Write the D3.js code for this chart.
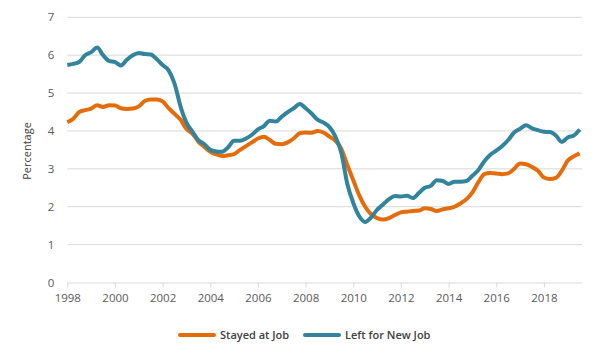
<!DOCTYPE html>
<html>
<head>
<meta charset="utf-8">
<script src="https://cdn.jsdelivr.net/npm/d3@7"></script>
<style>
  body { margin: 0; background: #fff; }
  svg { display: block; font-family: "Open Sans", sans-serif; }
</style>
</head>
<body>
<svg id="chart" width="600" height="360"></svg>
<script>
// quarterly readings, first quarter of 1998 onward
var startYear = 1998;
var stayedAtJob = [
  4.23, 4.32, 4.50, 4.55, 4.59, 4.68, 4.63, 4.68, 4.67, 4.60, 4.58, 4.59,
  4.65, 4.79, 4.83, 4.83, 4.78, 4.60, 4.45, 4.30, 4.05, 3.93, 3.72, 3.58,
  3.45, 3.38, 3.34, 3.36, 3.39, 3.50, 3.60, 3.70, 3.80, 3.85, 3.76, 3.66,
  3.65, 3.70, 3.80, 3.94, 3.96, 3.95, 4.00, 3.96, 3.85, 3.74, 3.53, 3.10,
  2.70, 2.30, 2.00, 1.80, 1.70, 1.66, 1.70, 1.78, 1.85, 1.87, 1.89, 1.90,
  1.96, 1.94, 1.89, 1.93, 1.96, 2.00, 2.09, 2.20, 2.38, 2.65, 2.86, 2.89,
  2.88, 2.86, 2.88, 3.00, 3.14, 3.12, 3.05, 2.95, 2.77, 2.73, 2.76, 2.95,
  3.22, 3.33, 3.41
];
var leftForNewJob = [
  5.74, 5.77, 5.82, 6.00, 6.08, 6.20, 6.00, 5.85, 5.82, 5.73, 5.88, 6.00,
  6.06, 6.03, 6.02, 5.90, 5.74, 5.60, 5.25, 4.65, 4.22, 3.98, 3.76, 3.65,
  3.50, 3.46, 3.45, 3.57, 3.74, 3.74, 3.80, 3.90, 4.04, 4.13, 4.27, 4.25,
  4.38, 4.50, 4.60, 4.71, 4.60, 4.46, 4.30, 4.22, 4.10, 3.85, 3.42, 2.60,
  2.10, 1.75, 1.60, 1.72, 1.92, 2.06, 2.20, 2.28, 2.27, 2.29, 2.23, 2.36,
  2.50, 2.55, 2.70, 2.68, 2.60, 2.66, 2.66, 2.68, 2.82, 2.97, 3.20, 3.37,
  3.48, 3.60, 3.76, 3.96, 4.06, 4.15, 4.07, 4.02, 3.98, 3.97, 3.88, 3.71,
  3.83, 3.88, 4.04
];
var xTicks = [1998, 2000, 2002, 2004, 2006, 2008, 2010, 2012, 2014, 2016, 2018];
var yTicks = [0, 1, 2, 3, 4, 5, 6, 7];
var seriesNames = ["Stayed at Job", "Left for New Job"];
var seriesColors = ["#e46c0a", "#31849b"];

var svg = d3.select("#chart");

var x = d3.scaleLinear().domain([1998, 2020]).range([67.3, 591.6]),
    y = d3.scaleLinear().domain([0, 7]).range([282.5, 17.3]);
var plotRight = 582;

var g = svg.append("g");

// gridlines
g.selectAll(".grid")
 .data(yTicks.filter(function(d) { return d > 0; }))
 .enter().append("line")
 .attr("x1", x(1998))
 .attr("x2", plotRight)
 .attr("y1", function(d) { return y(d); })
 .attr("y2", function(d) { return y(d); })
 .attr("stroke", "#d9d9d9")
 .attr("stroke-width", 1);

// x axis
var xAxis = g.append("g")
 .attr("transform", "translate(0," + y(0) + ")")
 .call(d3.axisBottom(x).tickValues(xTicks).tickFormat(d3.format("d")).tickSize(5).tickPadding(6));
xAxis.select(".domain").attr("d", "M" + x(1998) + ",0.5H" + plotRight).attr("stroke", "#d9d9d9");
xAxis.selectAll(".tick line").attr("stroke", "#d9d9d9");
xAxis.selectAll(".tick text")
 .attr("fill", "#595959")
 .attr("font-size", "11.5px")
 .attr("font-family", "Open Sans, sans-serif");

// y axis labels
var yAxis = g.append("g")
 .attr("transform", "translate(" + x(1998) + ",0)")
 .call(d3.axisLeft(y).tickValues(yTicks).tickFormat(d3.format("d")).tickSize(0).tickPadding(13));
yAxis.select(".domain").remove();
yAxis.selectAll(".tick text")
 .attr("fill", "#595959")
 .attr("font-size", "11.5px")
 .attr("font-family", "Open Sans, sans-serif");

svg.append("text")
 .attr("transform", "translate(31,151) rotate(-90)")
 .attr("text-anchor", "middle")
 .attr("font-size", "11px")
 .attr("fill", "#404040")
 .text("Percentage");

// lines
var line = d3.line()
 .x(function(d, i) { return x(startYear + i / 4); })
 .y(function(d) { return y(d); })
 .curve(d3.curveMonotoneX);

[stayedAtJob, leftForNewJob].forEach(function(s, k) {
  g.append("path")
   .datum(s)
   .attr("fill", "none")
   .attr("stroke", seriesColors[k])
   .attr("stroke-width", 4)
   .attr("stroke-linejoin", "round")
   .attr("d", line);
});

// legend
var legendX = [180, 305];
seriesNames.forEach(function(name, k) {
  var lg = svg.append("g").attr("transform", "translate(" + legendX[k] + ",335)");
  lg.append("line")
    .attr("x1", 0).attr("x2", 34)
    .attr("stroke", seriesColors[k])
    .attr("stroke-width", 4)
    .attr("stroke-linecap", "round");
  lg.append("text")
    .attr("x", 40)
    .attr("dy", "0.35em")
    .attr("font-size", "11px")
    .attr("font-weight", 600)
    .attr("fill", "#404040")
    .text(name);
});
</script>
</body>
</html>
